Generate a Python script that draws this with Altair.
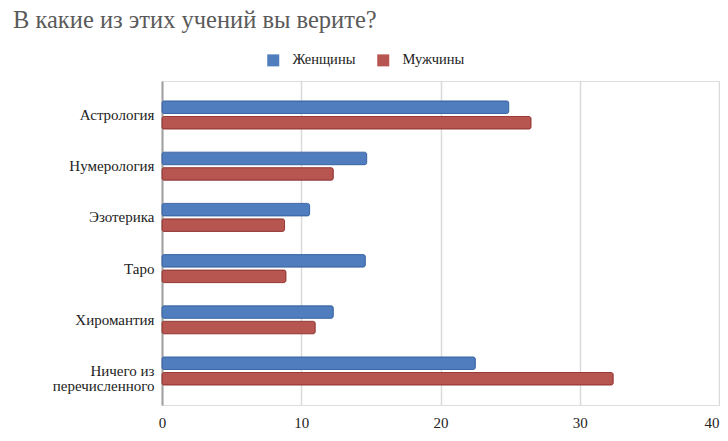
import altair as alt
import pandas as pd

categories = ["Астрология", "Нумерология", "Эзотерика", "Таро", "Хиромантия", "Ничего из перечисленного"]
series = ["Женщины", "Мужчины"]
women = [24.9, 14.7, 10.6, 14.6, 12.3, 22.5]
men = [26.5, 12.3, 8.8, 8.9, 11.0, 32.4]
x_ticks = [0, 10, 20, 30, 40]
title_text = "В какие из этих учений вы верите?"

rows = []
for c, w, m in zip(categories, women, men):
    rows.append({"category": c, "series": series[0], "value": w})
    rows.append({"category": c, "series": series[1], "value": m})
df = pd.DataFrame(rows)

FONT = "Liberation Serif, DejaVu Serif, serif"
fill_colors = ["#4f7dbe", "#b75551"]
stroke_colors = ["#3d68a6", "#963b37"]

label_expr = ("datum.label == 'Ничего из перечисленного' ? "
              "['Ничего из', 'перечисленного'] : datum.label")

chart = alt.Chart(df).mark_bar(cornerRadius=2, strokeWidth=1, height=12.5).encode(
    x=alt.X("value:Q",
            scale=alt.Scale(domain=[0, 40], nice=False, zero=True),
            axis=alt.Axis(values=x_ticks, title=None, grid=True, gridColor="#dadada",
                          gridWidth=1.5, domain=False, ticks=False, labelPadding=10,
                          labelFlush=False,
                          labelAlign=alt.ExprRef(expr="datum.value >= 40 ? 'right' : 'center'"),
                          labelFont=FONT, labelFontSize=15, labelColor="#222222")),
    y=alt.Y("category:N", sort=categories,
            scale=alt.Scale(paddingInner=0, paddingOuter=0.164),
            axis=alt.Axis(title=None, ticks=False, domain=True, domainColor="#a0a0a0",
                          domainWidth=2, labelPadding=8, labelFont=FONT, labelFontSize=15,
                          labelColor="#222222", labelExpr=label_expr, labelLineHeight=15,
                          labelLimit=200)),
    yOffset=alt.YOffset("series:N", sort=series,
                        scale=alt.Scale(paddingInner=0.194, paddingOuter=0.749)),
    color=alt.Color("series:N", sort=series,
                    scale=alt.Scale(domain=series, range=fill_colors),
                    legend=alt.Legend(title=None, orient="none", legendX=104, legendY=-28,
                                      direction="horizontal", symbolType="square",
                                      symbolSize=144, symbolStrokeWidth=0,
                                      labelFont=FONT, labelFontSize=14.5, labelColor="#222222",
                                      labelOffset=12, columnPadding=20, padding=0)),
    stroke=alt.Stroke("series:N", sort=series,
                      scale=alt.Scale(domain=series, range=stroke_colors),
                      legend=None),
).properties(
    width=557,
    height=324,
    autosize=alt.AutoSizeParams(type="none"),
    padding={"left": 154, "top": 73, "right": 1, "bottom": 28},
    title=alt.TitleParams(text=title_text, anchor="start", frame="group", dx=-149,
                          offset=1, baseline="alphabetic", font=FONT, fontSize=24.5,
                          fontWeight="normal", color="#5a5a5a"),
).configure_view(stroke=None).configure(background="white")

chart.save("out.html", embed_options={"renderer": "svg", "actions": False})
